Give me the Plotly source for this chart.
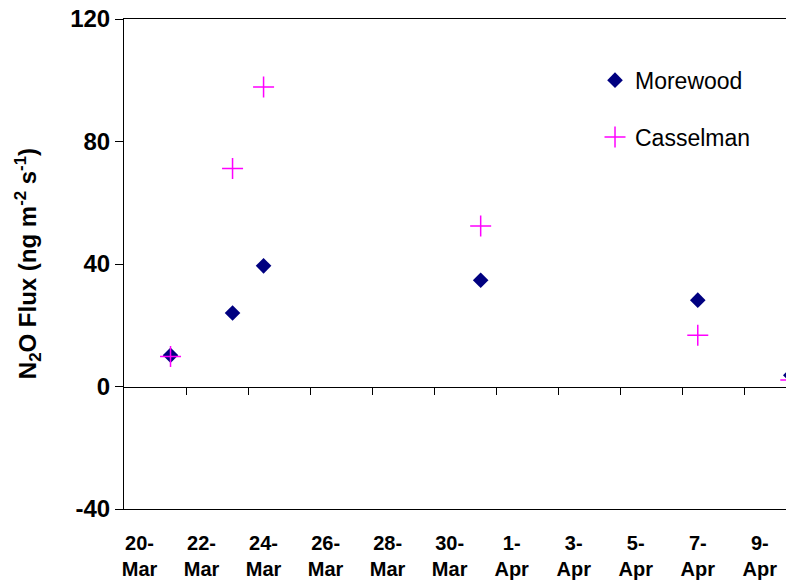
import plotly.graph_objects as go
from datetime import datetime, timedelta

# ---- data ----
dates = ["2004-03-21", "2004-03-23", "2004-03-24", "2004-03-31", "2004-04-07", "2004-04-10"]
morewood = [10.2, 24.0, 39.4, 34.7, 28.2, 3.7]
casselman = [9.8, 71.2, 97.8, 52.4, 16.7, 2.1]

tick_dates = ["2004-03-20", "2004-03-22", "2004-03-24", "2004-03-26", "2004-03-28",
              "2004-03-30", "2004-04-01", "2004-04-03", "2004-04-05", "2004-04-07",
              "2004-04-09"]
tick_labels = ["20-<br>Mar", "22-<br>Mar", "24-<br>Mar", "26-<br>Mar", "28-<br>Mar",
               "30-<br>Mar", "1-<br>Apr", "3-<br>Apr", "5-<br>Apr", "7-<br>Apr",
               "9-<br>Apr"]
y_ticks = [-40, 0, 40, 80, 120]
y_tick_labels = ["-40", "0", "40", "80", "120"]
y_range = [-40, 120]
x_range = ["2004-03-19 12:00", "2004-04-10 02:28"]

# tick marks sit on the boundaries between the two-day label bands
boundaries = [(datetime.fromisoformat(d) + timedelta(hours=36)).strftime("%Y-%m-%d %H:%M")
              for d in tick_dates]

FONT = "Liberation Sans, Arial, sans-serif"

fig = go.Figure()
fig.add_trace(go.Scatter(
    x=dates, y=morewood, mode="markers", name="Morewood",
    legendgroup="a", cliponaxis=False,
    marker=dict(symbol="diamond", size=12, color="#000080", line=dict(width=0)),
))
fig.add_trace(go.Scatter(
    x=dates, y=casselman, mode="markers", name="Casselman",
    legendgroup="b", cliponaxis=False,
    marker=dict(symbol="cross-thin", size=15, color="#FF00FF",
                line=dict(width=1.5, color="#FF00FF")),
))
# helper trace so the zero-line axis is drawn
fig.add_trace(go.Scatter(
    x=[dates[0]], y=[morewood[0]], xaxis="x2", mode="markers",
    marker=dict(opacity=0), showlegend=False, hoverinfo="skip",
))

# the page body adds an 8px offset, so the figure is 8px smaller
fig.update_layout(
    width=786, height=575,
    margin=dict(l=116, r=0, t=11, b=74, autoexpand=False),
    paper_bgcolor="white", plot_bgcolor="white",
    font=dict(family=FONT, color="black"),
    showlegend=True,
    legend=dict(
        x=0.703, y=0.919, xanchor="left", yanchor="top",
        font=dict(size=23, family=FONT, color="black"),
        bgcolor="rgba(0,0,0,0)", tracegroupgap=24, itemwidth=30,
    ),
    xaxis=dict(
        type="date", range=x_range, automargin=False,
        tickmode="array", tickvals=tick_dates, ticktext=tick_labels,
        ticks="", ticklabelstandoff=16, ticklabeloverflow="allow",
        tickfont=dict(size=20, family=FONT, weight="bold", color="black"),
        showline=True, linecolor="black", linewidth=1, mirror=True,
        showgrid=False, zeroline=False,
    ),
    xaxis2=dict(
        type="date", range=x_range, overlaying="x", anchor="free", automargin=False,
        position=(0 - y_range[0]) / (y_range[1] - y_range[0]), side="bottom",
        tickmode="array", tickvals=boundaries,
        ticks="outside", ticklen=7, tickcolor="black", tickwidth=1,
        showticklabels=False,
        showline=True, linecolor="black", linewidth=1,
        showgrid=False, zeroline=False,
    ),
    yaxis=dict(
        range=y_range, tickmode="array", tickvals=y_ticks, ticktext=y_tick_labels,
        automargin=False, ticklabeloverflow="allow",
        ticks="outside", ticklen=8, tickcolor="black",
        tickfont=dict(size=24, family=FONT, weight="bold", color="black"),
        showline=True, linecolor="black", linewidth=1,
        showgrid=False, zeroline=False,
    ),
    annotations=[dict(
        text="<b>N<sub>2</sub>O Flux (ng m<sup>-2</sup> s<sup>-1</sup>)</b>",
        textangle=-90, xref="paper", yref="paper",
        x=-0.143, y=0.5, xanchor="center", yanchor="middle",
        showarrow=False, font=dict(size=24, family=FONT, color="black"),
    )],
)

fig.write_html("out.html")
